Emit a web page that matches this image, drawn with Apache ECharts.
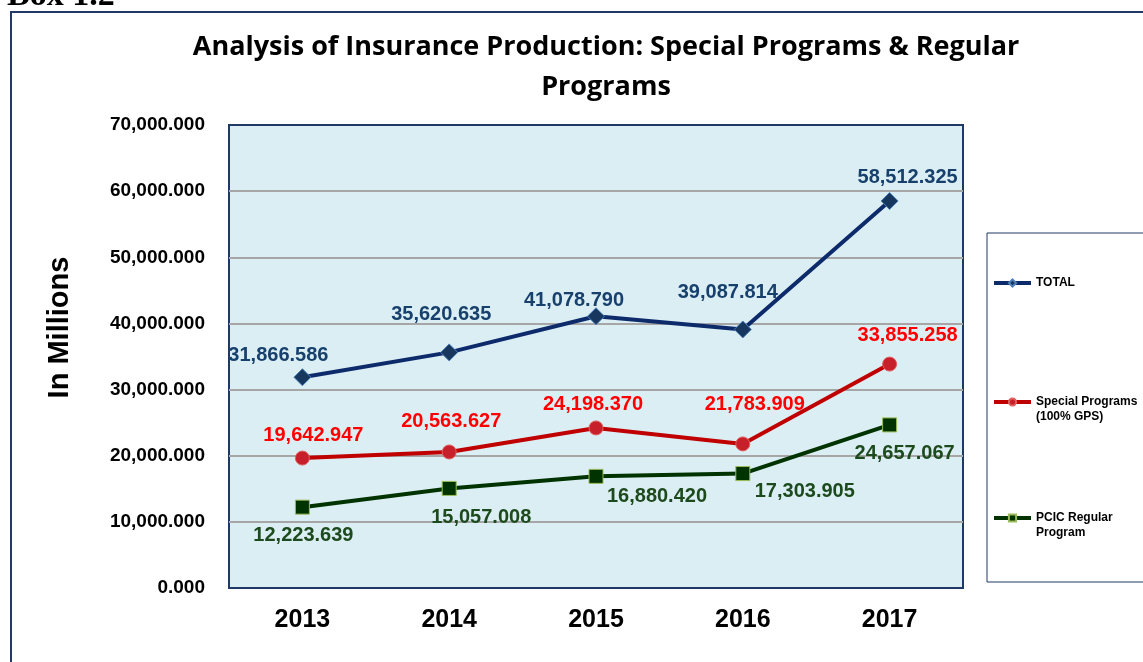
<!DOCTYPE html>
<html>
<head>
<meta charset="utf-8">
<script src="https://cdn.jsdelivr.net/npm/echarts@6/dist/echarts.min.js"></script>
<style>
  html, body { margin: 0; padding: 0; background: #fff; }
  #chart { width: 1143px; height: 662px; }
</style>
</head>
<body>
<div id="chart"></div>
<script>
const years = ['2013', '2014', '2015', '2016', '2017']
const total = [31866.586, 35620.635, 41078.790, 39087.814, 58512.325]
const special = [19642.947, 20563.627, 24198.370, 21783.909, 33855.258]
const regular = [12223.639, 15057.008, 16880.420, 17303.905, 24657.067]

// label nudges (px) so the numbers sit where the original put them
const totalOff = [[-24, -22], [-8, -38], [-22, -16], [-15, -37], [18, -23]]
const specialOff = [[11, -23], [2, -31], [-3, -23], [12, -39], [18, -29]]
const regularOff = [[1, 28], [32, 29], [61, 20], [62, 18], [15, 29]]

const fmt = v => Number(v).toLocaleString('en-US', { minimumFractionDigits: 3, maximumFractionDigits: 3 })

function points(values, offs) {
  return values.map((v, i) => ({ value: v, label: { offset: offs[i] } }))
}

function line(name, values, offs, c) {
  return {
    name,
    type: 'line',
    data: points(values, offs),
    symbol: c.symbol,
    symbolSize: c.size,
    lineStyle: { color: c.line, width: 4 },
    itemStyle: { color: c.marker, borderColor: c.border, borderWidth: 1 },
    label: {
      show: true,
      position: 'inside',
      formatter: p => fmt(p.value),
      color: c.text,
      fontFamily: 'Liberation Sans, Arial',
      fontWeight: 'bold',
      fontSize: 20,
    },
    z: 3,
  }
}

// legend text: a leading blank line keeps the icon level with the first text line
const legendText = {
  'TOTAL': 'TOTAL',
  'Special Programs (100% GPS)': '\nSpecial Programs\n(100% GPS)',
  'PCIC Regular Program': '\nPCIC Regular\nProgram',
}

const chart = echarts.init(document.getElementById('chart'))

chart.setOption({
  animation: false,
  title: {
    text: 'Analysis of Insurance Production: Special Programs & Regular\nPrograms',
    left: 606,
    top: 27,
    textAlign: 'center',
    padding: 0,
    textStyle: { fontFamily: 'Open Sans', fontWeight: 'bold', fontSize: 27, lineHeight: 40, color: '#000' },
  },
  graphic: [
    { type: 'rect', shape: { x: 11, y: 12, width: 1160, height: 700 }, style: { fill: 'none', stroke: '#1F3864', lineWidth: 2 }, z: -1 },
    { type: 'rect', shape: { x: 987, y: 233, width: 180, height: 349 }, style: { fill: 'none', stroke: '#1F3864', lineWidth: 1 } },
    { type: 'text', x: 7, y: 13, style: { text: 'Box 1.2', fontFamily: 'Liberation Serif', fontWeight: 'bold', fontSize: 34, fill: '#000', verticalAlign: 'bottom' } },
  ],
  legend: [
    { data: [{ name: 'TOTAL' }], top: 275.5 },
    { data: [{ name: 'Special Programs (100% GPS)' }], top: 379.5 },
    { data: [{ name: 'PCIC Regular Program' }], top: 495.5 },
  ].map(l => ({
    ...l,
    left: 992,
    orient: 'vertical',
    padding: 0,
    itemWidth: 37,
    itemHeight: 9,
    lineStyle: { width: 4 },
    formatter: n => legendText[n],
    textStyle: {
      fontFamily: 'Liberation Sans, Arial',
      fontWeight: 'bold',
      fontSize: 12,
      lineHeight: 15,
      color: '#000',
    },
  })),
  grid: {
    left: 229, top: 125, right: 180, bottom: 74,
    show: true,
    backgroundColor: '#DBEEF3',
    borderColor: '#1F3864',
    borderWidth: 2,
  },
  xAxis: {
    type: 'category',
    data: years,
    boundaryGap: true,
    axisLine: { show: false },
    axisTick: { show: false },
    axisLabel: { color: '#000', fontFamily: 'Liberation Sans, Arial', fontWeight: 'bold', fontSize: 25, margin: 20 },
  },
  yAxis: {
    type: 'value',
    min: 0,
    max: 70000,
    interval: 10000,
    name: 'In Millions',
    nameLocation: 'middle',
    nameRotate: 90,
    nameGap: 155,
    nameTextStyle: { color: '#000', fontFamily: 'Liberation Sans, Arial', fontWeight: 'bold', fontSize: 29, padding: [0, 0, 0, 58] },
    axisLine: { show: false },
    axisTick: { show: false },
    axisLabel: { color: '#000', fontFamily: 'Liberation Sans, Arial', fontWeight: 'bold', fontSize: 19, margin: 24, formatter: fmt },
    splitLine: { showMinLine: false, showMaxLine: false, lineStyle: { color: '#A6A6A6', width: 2 } },
  },
  series: [
    line('TOTAL', total, totalOff, { symbol: 'diamond', size: 17, line: '#0D2B6B', marker: '#17375E', border: '#4F81BD', text: '#17406D' }),
    line('Special Programs (100% GPS)', special, specialOff, { symbol: 'circle', size: 14, line: '#C00000', marker: '#C8202A', border: '#E06060', text: '#FF0000' }),
    line('PCIC Regular Program', regular, regularOff, { symbol: 'rect', size: 14, line: '#003300', marker: '#003300', border: '#9BBB59', text: '#1D4A1D' }),
  ],
})

window.addEventListener('resize', () => chart.resize())
</script>
</body>
</html>
